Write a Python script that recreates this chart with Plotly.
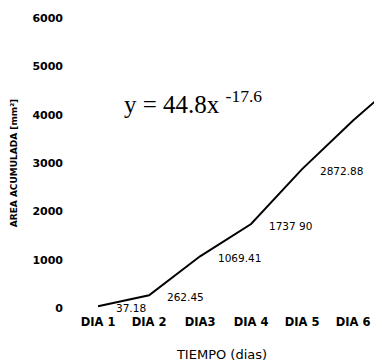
import plotly.graph_objects as go

days = ["DIA 1", "DIA 2", "DIA3", "DIA 4", "DIA 5", "DIA 6", "DIA 7"]
area = [37.18, 262.45, 1069.41, 1737.90, 2872.88, 3880, 4800]
point_labels = ["37.18", "262.45", "1069.41", "1737 90", "2872.88", "", ""]
y_ticks = [0, 1000, 2000, 3000, 4000, 5000, 6000]

FONT = "DejaVu Sans"

fig = go.Figure()
fig.add_trace(go.Scatter(
    x=list(range(len(days))), y=area, mode="lines",
    line=dict(color="black", width=2), cliponaxis=True,
    hoverinfo="skip", showlegend=False,
))

for i, (v, lab) in enumerate(zip(area, point_labels)):
    if lab:
        fig.add_annotation(x=i, y=v, text=lab, showarrow=False,
                           xanchor="left", yanchor="middle", xshift=16, yshift=-2,
                           font=dict(family=FONT, size=10.5, color="black"))

fig.add_annotation(xref="paper", yref="paper", x=0.172, y=0.71,
                   text="y = 44.8x <sup>-17.6</sup>", showarrow=False,
                   xanchor="left", yanchor="middle",
                   font=dict(family="Liberation Serif", size=25, color="black"))

fig.update_xaxes(
    range=[-0.55, 5.41], tickmode="array",
    tickvals=list(range(len(days))), ticktext=days,
    showgrid=False, zeroline=False, showline=False, ticks="",
    ticklabelstandoff=5,
    tickfont=dict(family=FONT, size=11.5, color="black", weight="bold"),
    title=dict(text="TIEMPO (dias)", font=dict(family=FONT, size=13, color="black"), standoff=22),
)
fig.update_yaxes(
    range=[0, 6000], tickmode="array", tickvals=y_ticks,
    ticktext=[str(t) for t in y_ticks],
    showgrid=False, zeroline=False, showline=False, ticks="",
    ticklabelstandoff=6,
    tickfont=dict(family=FONT, size=11, color="black", weight="bold"),
    title=dict(text="AREA ACUMULADA [mm²]", font=dict(family=FONT, size=9, color="black", weight="bold"), standoff=13),
)
fig.update_layout(
    width=374, height=364,
    margin=dict(l=70, r=0, t=18, b=56),
    plot_bgcolor="white", paper_bgcolor="white",
)
fig.write_html("out.html")
